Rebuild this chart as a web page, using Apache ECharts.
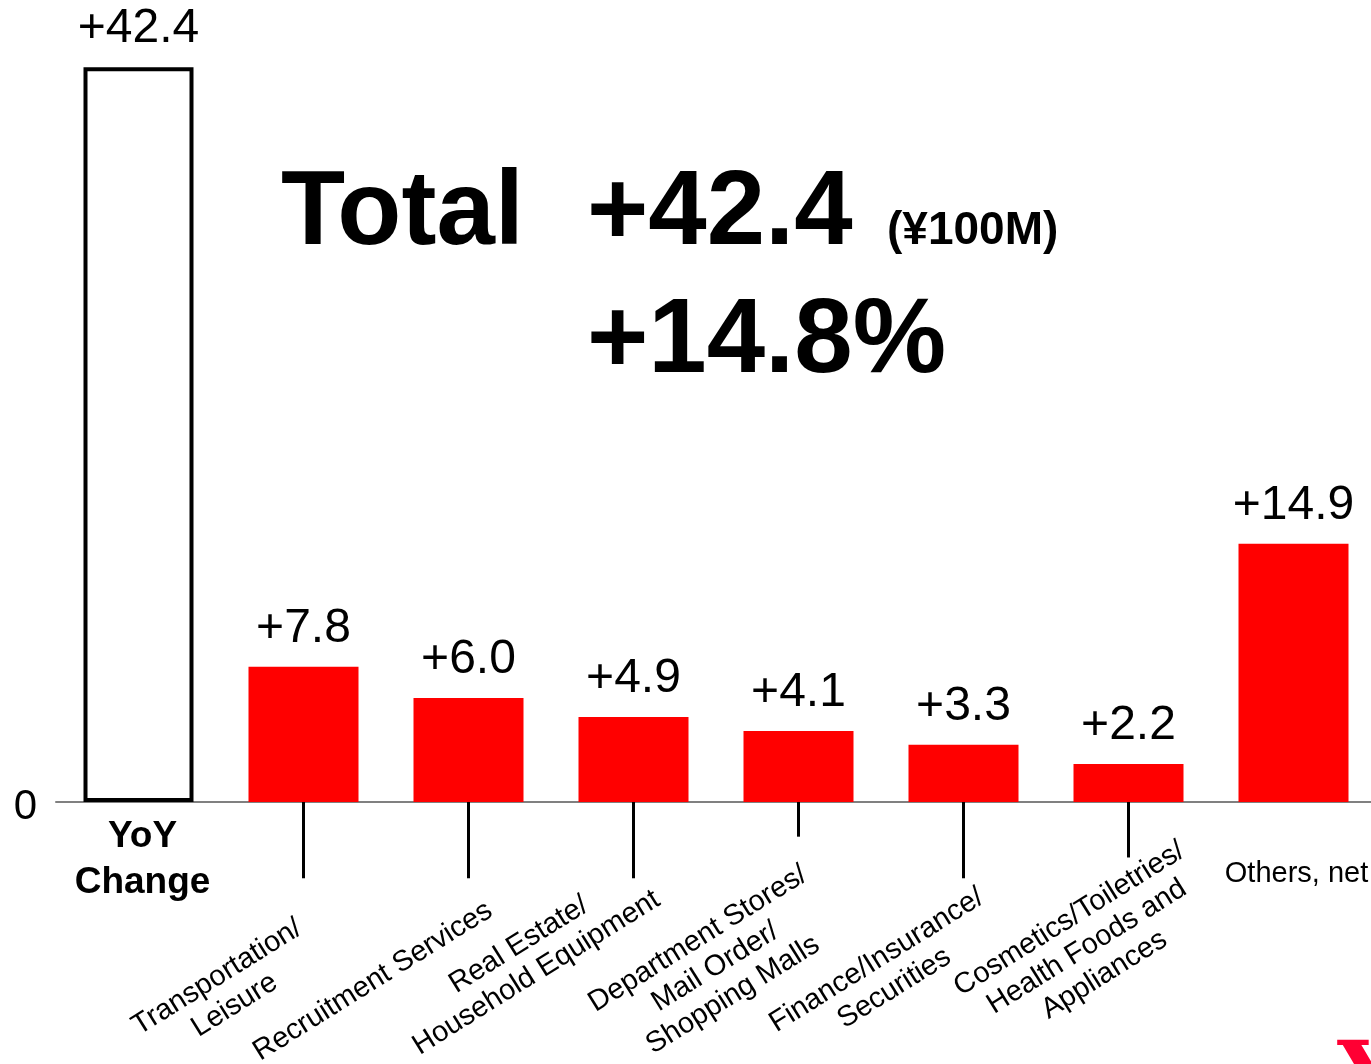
<!DOCTYPE html>
<html>
<head>
<meta charset="utf-8">
<script src="https://cdn.jsdelivr.net/npm/echarts@6/dist/echarts.min.js"></script>
<style>
html,body{margin:0;padding:0;background:#fff;}
#chart{width:1371px;height:1064px;}
</style>
</head>
<body>
<div id="chart"></div>
<script>
// ---- data ----
const categories = [
  'YoY\nChange',
  'Transportation/\nLeisure',
  'Recruitment Services',
  'Real Estate/\nHousehold Equipment',
  'Department Stores/\nMail Order/\nShopping Malls',
  'Finance/Insurance/\nSecurities',
  'Cosmetics/Toiletries/\nHealth Foods and\nAppliances',
  'Others, net'
];
const values = [42.4, 7.8, 6.0, 4.9, 4.1, 3.3, 2.2, 14.9];
const leaderDepth = [null, -4.4, -4.4, -4.4, -2.0, -4.4, -3.2, null];
const rotatedLabel = [false, true, true, true, true, true, true, false];
const totalText = 'Total';
const totalValue = '+42.4';
const totalUnit = '(¥100M)';
const totalPct = '+14.8%';

// ---- layout / styling ----
const FONT = '"Liberation Sans", Arial, Helvetica, sans-serif';
// per-label padding [top, right, bottom, left] used to place each rotated label block
const rotPad = [null, [315,93,0,0], [279,62,0,0], [230,54,0,0], [268,56,0,0], [286,58,0,0], [278,3,0,0], null];

const chart = echarts.init(document.getElementById('chart'), null, {renderer: 'canvas'});

const rotData = categories.map((c, i) => rotatedLabel[i] ? {value: c, textStyle: {padding: rotPad[i]}} : c);
const flatData = categories.map((c, i) => {
  if (i === 0) return {value: c, textStyle: {padding: [0, 0, 0, 8]}};
  if (i === categories.length - 1) return {value: c, textStyle: {padding: [42, 0, 0, 6], fontSize: 29, fontWeight: 'normal', lineHeight: 35}};
  return c;
});

const barData = values.map((v, i) => i === 0
  ? {value: v, itemStyle: {color: '#ffffff', borderColor: '#000000', borderWidth: 4}}
  : {value: v, itemStyle: {color: '#ff0000'}});

const titleStyle = {fontFamily: FONT, fontWeight: 'bold', color: '#000', fontSize: 105, lineHeight: 105};

const option = {
  backgroundColor: '#ffffff',
  animation: false,
  title: [
    {text: totalText, left: 281, top: 163, padding: 0, textStyle: titleStyle},
    {text: totalValue, left: 587, top: 163, padding: 0, textStyle: titleStyle},
    {text: totalUnit, left: 887, top: 208, padding: 0, textStyle: {fontFamily: FONT, fontWeight: 'bold', color: '#000', fontSize: 46, lineHeight: 46}},
    {text: totalPct, left: 587, top: 291, padding: 0, textStyle: titleStyle}
  ],
  grid: {
    left: 56, width: 1320, top: 4.8, height: 901.2, containLabel: false,
    outerBounds: {left: -3000, right: -3000, top: -3000, bottom: -3000}
  },
  xAxis: [
    {
      type: 'category', position: 'bottom', data: rotData,
      axisLine: {onZero: true, lineStyle: {color: '#808080', width: 2}},
      axisTick: {show: false},
      splitLine: {show: false},
      axisLabel: {
        interval: 0, rotate: 32, margin: -149,
        fontFamily: FONT, fontSize: 29, color: '#000',
        formatter: (v, i) => rotatedLabel[i] ? v.split('\n').map(s => '{c|' + s + '}').join('\n') : '',
        rich: {c: {align: 'center', fontFamily: FONT, fontSize: 29, lineHeight: 33, color: '#000'}}
      }
    },
    {
      type: 'category', position: 'bottom', data: flatData,
      axisLine: {show: false, onZero: true},
      axisTick: {show: false},
      splitLine: {show: false},
      axisLabel: {
        interval: 0, rotate: 0, margin: -92,
        fontFamily: FONT, fontSize: 37, fontWeight: 'bold', lineHeight: 46, color: '#000',
        formatter: (v, i) => rotatedLabel[i] ? '' : v
      }
    }
  ],
  yAxis: {
    type: 'value', min: -6, max: 46, interval: 2,
    axisLine: {show: false}, axisTick: {show: false}, splitLine: {show: false},
    axisLabel: {
      margin: 19, fontFamily: FONT, fontSize: 42, color: '#000',
      verticalAlign: 'top', lineHeight: 10,
      formatter: v => (v === 0 ? '0' : '')
    }
  },
  series: [
    {
      type: 'bar', xAxisIndex: 0, data: barData, barWidth: 110, z: 3,
      label: {
        show: true, position: 'top', distance: 14,
        fontFamily: FONT, fontSize: 48, color: '#000',
        formatter: p => '+' + Number(p.value).toFixed(1)
      }
    },
    {
      type: 'bar', xAxisIndex: 1, data: leaderDepth, barWidth: 3, z: 2,
      itemStyle: {color: '#000000'}, label: {show: false}
    }
  ],
  graphic: [
    {type: 'text', left: 1338, top: 1037, silent: true,
     style: {text: 'Y', fontFamily: '"DejaVu Serif", serif', fontWeight: 'bold', fontSize: 90, fill: '#ff0033'}}
  ]
};
chart.setOption(option);
</script>
</body>
</html>
